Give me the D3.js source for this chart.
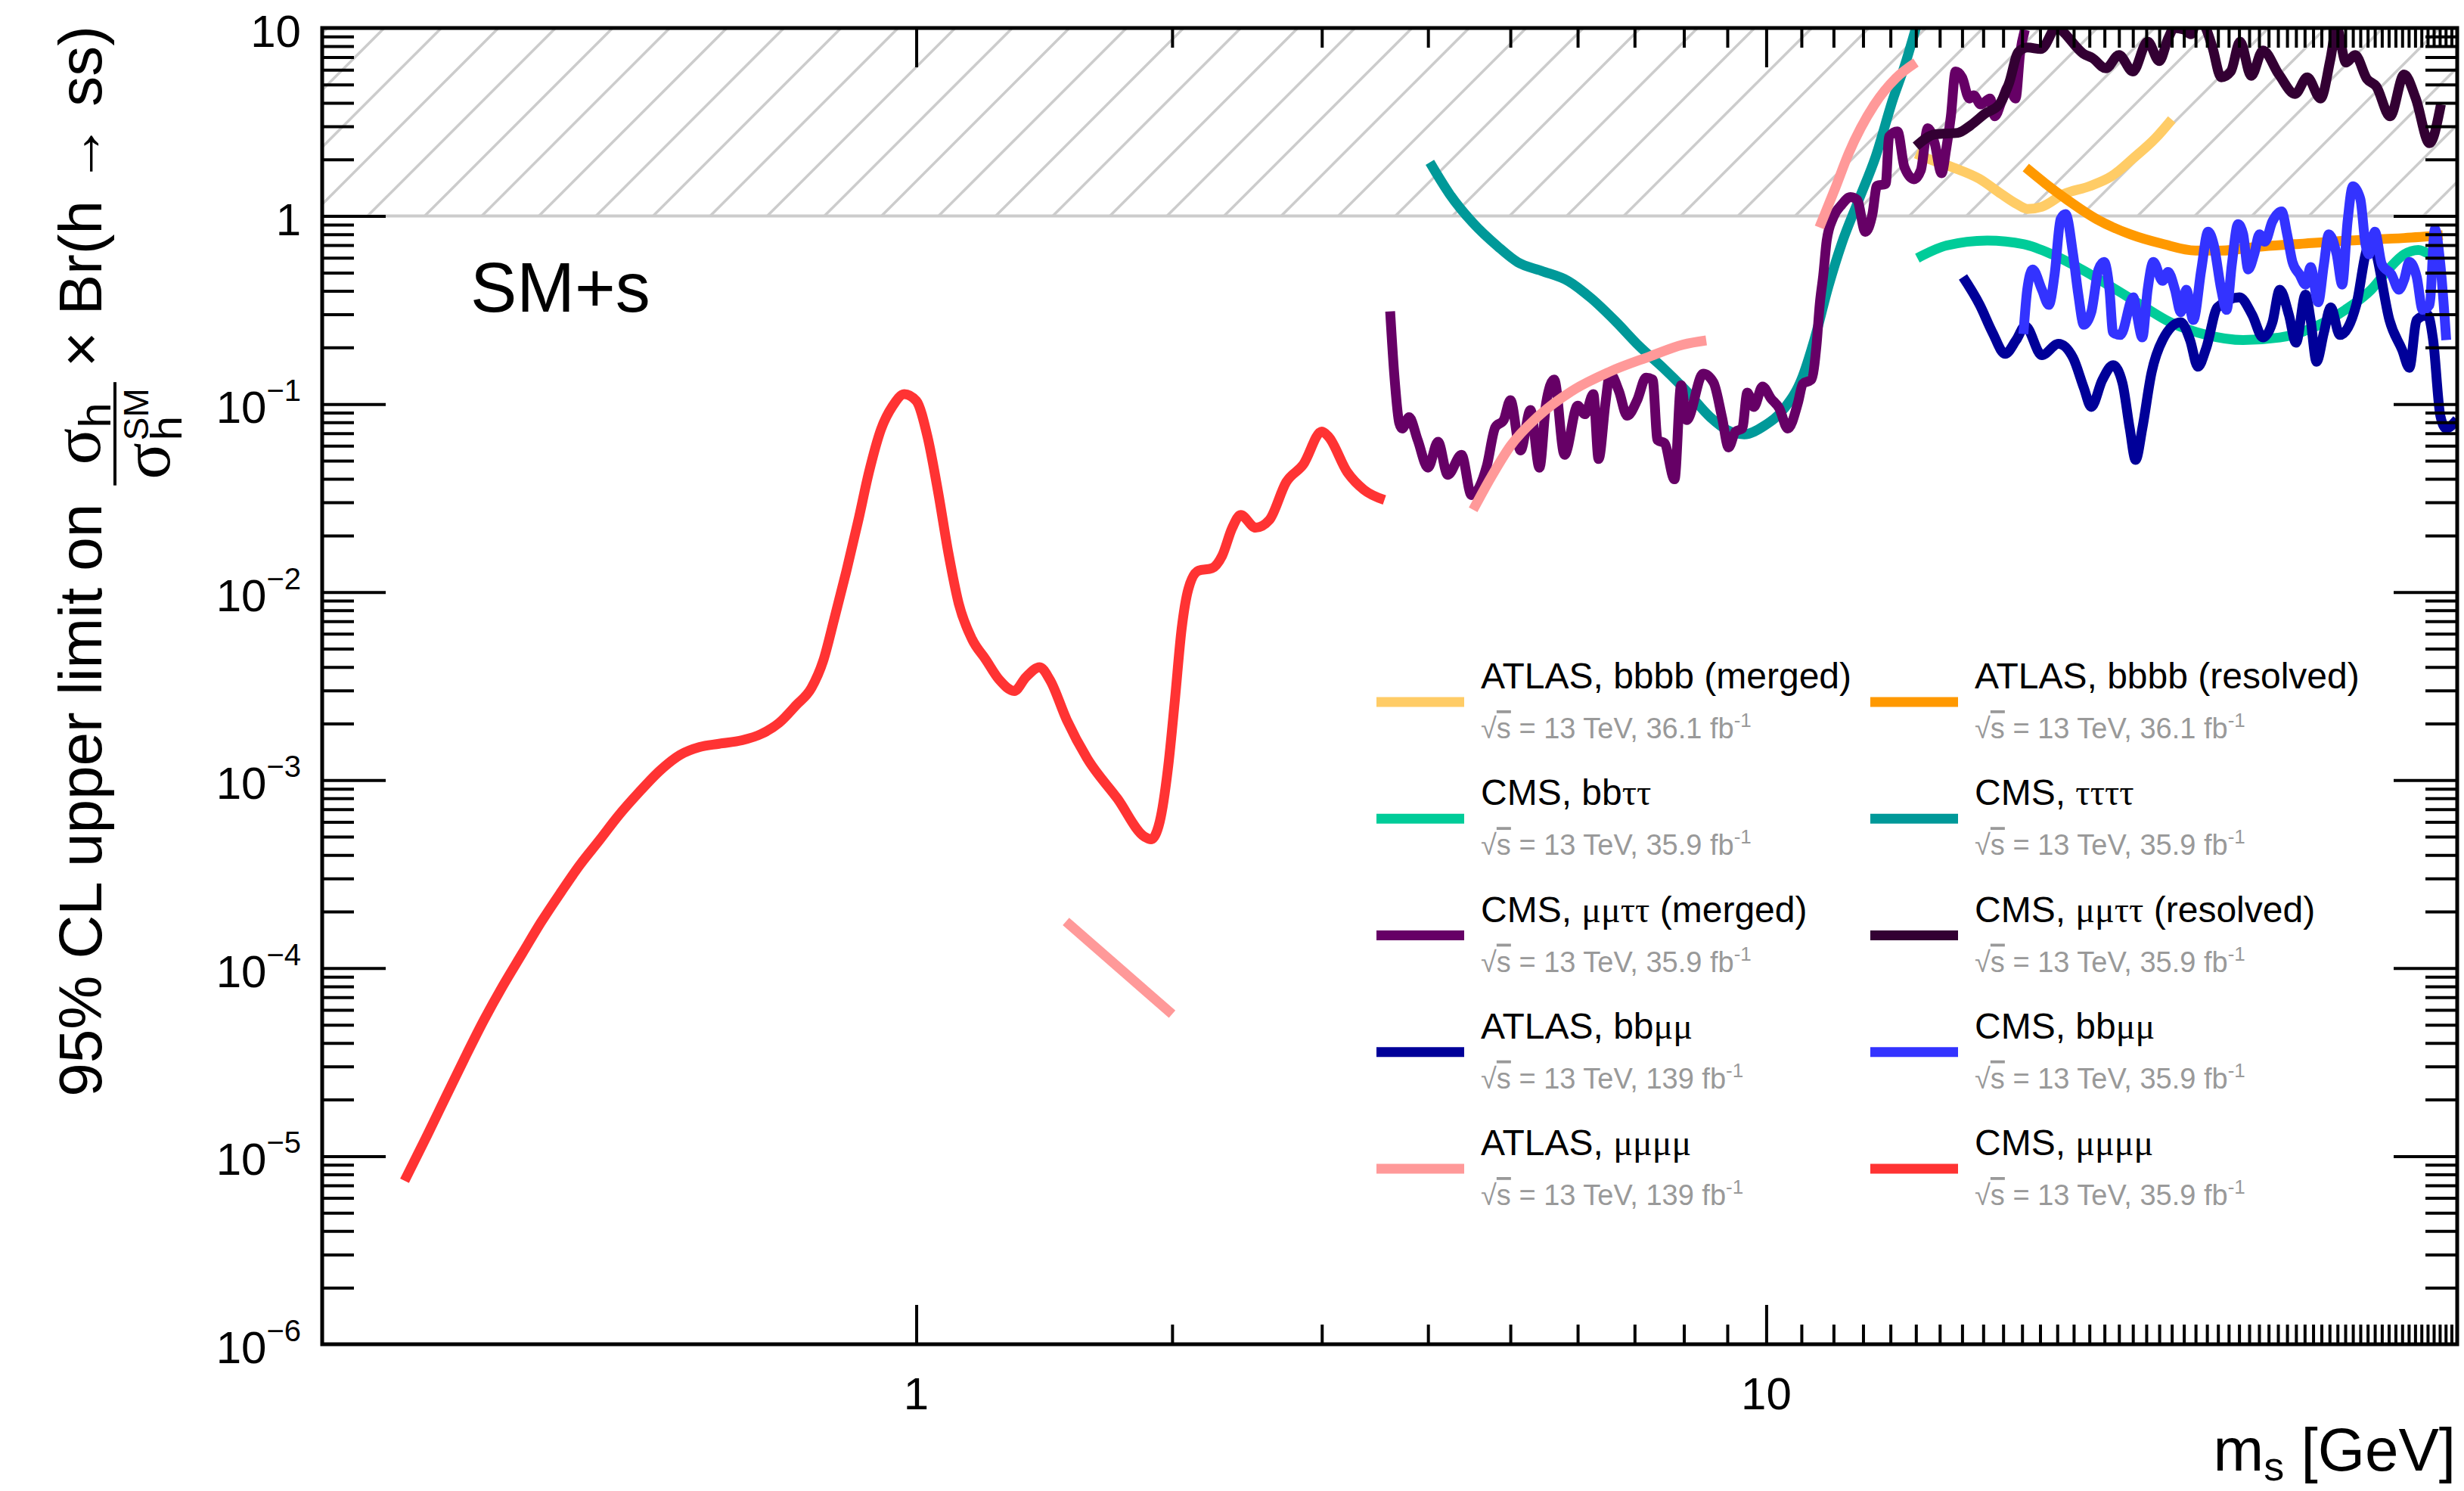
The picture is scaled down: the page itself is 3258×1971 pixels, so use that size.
<!DOCTYPE html>
<html>
<head>
<meta charset="utf-8">
<title>SM+s exotic Higgs limits</title>
<script src="https://cdn.jsdelivr.net/npm/d3@7"></script>
<style>
  body { margin: 0; background: #fff; }
  svg { display: block; font-family: "Liberation Sans", Arial, Helvetica, sans-serif; }
  text { white-space: pre; }
</style>
</head>
<body>
<svg id="chart" width="3258" height="1971"></svg>
<script>
// ---- data, [m_s in GeV, limit] ----
const atlasBbbbMerged = [[15.0,2.15],[15.5,2.02],[16.6,1.81],[17.8,1.58],[18.9,1.31],[19.7,1.16],[20.3,1.09],[21.1,1.12],[22.4,1.31],[24.0,1.44],[25.5,1.63],[27.0,2.02],[28.7,2.59],[30.0,3.26]];
const atlasBbbbResolved = [[20.2,1.81],[21.3,1.49],[22.6,1.22],[24.5,0.96],[26.8,0.80],[29.3,0.71],[32.0,0.655],[34.3,0.655],[37.9,0.686],[41.8,0.708],[48.5,0.741],[56.3,0.764],[62.5,0.79]];
const cmsBbTauTau = [[15.06,0.597],[16.3,0.697],[18.2,0.741],[20.1,0.708],[21.7,0.625],[23.5,0.52],[25.5,0.419],[27.6,0.337],[29.9,0.272],[33.0,0.233],[36.4,0.219],[40.2,0.226],[44.4,0.26],[48.0,0.317],[51.5,0.406],[54.1,0.528],[56.3,0.625],[58.5,0.66],[60.5,0.62]];
const cmsTauTauTauTau = [[4.02,1.93],[4.24,1.31],[4.52,0.917],[4.83,0.69],[5.1,0.568],[5.44,0.511],[5.85,0.451],[6.23,0.364],[6.65,0.275],[7.09,0.203],[7.56,0.156],[8.06,0.117],[8.59,0.0853],[9.0,0.0727],[9.42,0.069],[9.95,0.0767],[10.5,0.0948],[11.0,0.135],[11.4,0.222],[11.83,0.42],[12.27,0.715],[12.85,1.22],[13.45,2.07],[14.1,4.2],[14.55,6.3],[15.0,10.0]];
const cmsMuMuTauTauMerged = [[3.61,0.311],[3.65,0.145],[3.70,0.0794],[3.73,0.0741],[3.80,0.0851],[3.89,0.0643],[4.0,0.0459],[4.11,0.063],[4.22,0.042],[4.38,0.0537],[4.50,0.0328],[4.69,0.0467],[4.80,0.0753],[4.91,0.0822],[5.0,0.105],[5.14,0.0567],[5.28,0.093],[5.41,0.0459],[5.51,0.102],[5.63,0.135],[5.79,0.0537],[6.0,0.098],[6.12,0.0883],[6.26,0.113],[6.35,0.051],[6.47,0.102],[6.55,0.145],[6.71,0.117],[6.86,0.0867],[7.05,0.105],[7.22,0.138],[7.35,0.135],[7.45,0.0643],[7.59,0.062],[7.80,0.0398],[7.94,0.126],[8.06,0.0822],[8.43,0.145],[8.67,0.130],[8.87,0.0851],[9.03,0.0588],[9.20,0.0714],[9.37,0.0741],[9.50,0.115],[9.67,0.0966],[9.90,0.124],[10.13,0.107],[10.36,0.0948],[10.6,0.0741],[10.9,0.102],[11.04,0.128],[11.3,0.135],[11.46,0.207],[11.56,0.34],[11.67,0.484],[11.78,0.741],[11.99,0.983],[12.27,1.15],[12.56,1.26],[12.79,1.22],[13.08,0.824],[13.33,1.02],[13.5,1.45],[13.82,1.48],[13.95,2.65],[14.27,2.82],[14.54,1.82],[14.92,1.57],[15.2,1.75],[15.49,2.93],[15.78,2.44],[16.08,1.69],[16.28,2.26],[16.49,3.39],[16.7,5.87],[17.0,5.46],[17.33,4.22],[17.54,4.38],[17.88,3.92],[18.34,4.22],[18.57,3.39],[18.92,4.07],[19.28,4.89],[19.65,4.22],[19.89,7.31],[20.15,9.8]];
const cmsMuMuTauTauResolved = [[15.0,2.35],[15.8,2.72],[16.8,2.77],[17.4,3.04],[18.1,3.51],[18.8,3.92],[19.3,5.07],[19.8,7.45],[20.3,7.87],[21.05,7.73],[22.0,10.2],[22.4,9.45],[23.6,7.31],[24.2,6.92],[25.1,6.1],[26.0,7.18],[27.0,5.87],[28.1,8.46],[29.0,6.67],[29.7,8.78],[30.2,10.0],[31.0,9.8],[31.6,9.27],[32.2,11.5],[32.9,10.0],[33.5,7.87],[34.3,5.46],[35.2,5.87],[36.1,8.46],[37.2,5.56],[38.4,7.59],[40.1,5.66],[41.9,4.46],[43.3,5.46],[44.9,4.22],[46.1,6.8],[46.9,10.0],[48.1,6.55],[49.3,7.18],[50.9,5.36],[52.2,4.89],[54.2,3.39],[56.3,5.66],[58.1,4.22],[60.3,2.44],[62.2,3.92]];
const atlasBbMuMu = [[17.04,0.474],[17.83,0.337],[18.46,0.24],[19.1,0.185],[19.68,0.219],[20.17,0.26],[21.1,0.182],[22.07,0.209],[22.96,0.176],[23.64,0.122],[24.12,0.0966],[24.85,0.134],[25.59,0.161],[26.24,0.13],[26.77,0.0743],[27.2,0.0505],[27.7,0.0743],[28.4,0.147],[29.26,0.219],[30.74,0.272],[31.52,0.219],[32.2,0.158],[32.95,0.2],[33.95,0.327],[36.04,0.37],[37.3,0.298],[38.4,0.226],[39.4,0.272],[40.2,0.406],[41.2,0.298],[42.0,0.212],[43.1,0.382],[43.7,0.28],[44.4,0.168],[45.3,0.24],[46.15,0.327],[47.3,0.233],[49.45,0.337],[50.7,0.625],[51.5,0.776],[52.24,0.625],[54.1,0.28],[56.0,0.194],[57.1,0.156],[58.25,0.28],[60.0,0.298],[60.9,0.219],[62.1,0.0867],[63.06,0.0743],[64.97,0.0828]];
const cmsBbMuMu = [[20.07,0.236],[20.28,0.406],[20.58,0.52],[21.1,0.406],[21.5,0.337],[21.84,0.489],[22.2,0.964],[22.5,1.025],[22.96,0.625],[23.29,0.382],[23.64,0.264],[24.12,0.308],[24.6,0.52],[24.97,0.57],[25.34,0.406],[25.59,0.24],[26.1,0.233],[27.04,0.37],[27.3,0.298],[27.7,0.226],[28.1,0.406],[28.54,0.57],[29.26,0.452],[29.7,0.504],[30.26,0.406],[30.74,0.308],[31.2,0.406],[31.8,0.28],[32.5,0.52],[33.1,0.826],[33.6,0.708],[34.3,0.406],[34.8,0.317],[35.3,0.553],[35.9,0.906],[36.4,0.80],[36.9,0.52],[37.5,0.625],[38.05,0.80],[38.6,0.73],[39.4,0.935],[40.4,1.057],[41.0,0.80],[41.6,0.57],[42.4,0.489],[43.1,0.432],[43.7,0.536],[44.6,0.348],[45.3,0.553],[45.9,0.80],[46.9,0.625],[47.6,0.432],[48.3,0.935],[49.0,1.44],[50.0,1.23],[50.7,0.708],[51.2,0.625],[52.0,0.826],[53.0,0.553],[54.4,0.489],[55.5,0.406],[56.3,0.459],[57.1,0.57],[58.25,0.474],[59.2,0.317],[60.3,0.337],[61.2,0.852],[62.1,0.553],[63.1,0.219]];
const atlasMuMuMuMuLow = [[1.5,1.77e-4],[2.0,5.7e-5]];
const atlasMuMuMuMuMid = [[4.52,0.0274],[4.74,0.0405],[5.0,0.0598],[5.38,0.0853],[5.9,0.117],[6.53,0.148],[7.29,0.179],[7.98,0.207],[8.5,0.218]];
const atlasMuMuMuMuHigh = [[11.55,0.87],[12.05,1.4],[12.5,2.15],[13.4,3.9],[14.2,5.4],[15.0,6.55]];
const cmsMuMuMuMu = [[0.25,7.4e-6],[0.266,1.3e-5],[0.28,2.1e-5],[0.294,3.3e-5],[0.31,5.3e-5],[0.326,8.0e-5],[0.344,1.2e-4],[0.362,1.76e-4],[0.382,2.54e-4],[0.402,3.54e-4],[0.424,4.8e-4],[0.446,6.45e-4],[0.47,8.45e-4],[0.5,1.13e-3],[0.527,1.36e-3],[0.556,1.5e-3],[0.586,1.56e-3],[0.624,1.63e-3],[0.657,1.76e-3],[0.69,2.02e-3],[0.722,2.5e-3],[0.753,3.1e-3],[0.777,4.3e-3],[0.801,7.24e-3],[0.827,0.0128],[0.854,0.0237],[0.88,0.0437],[0.909,0.0735],[0.938,0.0977],[0.968,0.113],[1.0,0.104],[1.031,0.0669],[1.061,0.034],[1.091,0.0161],[1.122,8.67e-3],[1.163,5.62e-3],[1.207,4.38e-3],[1.252,3.42e-3],[1.304,2.98e-3],[1.346,3.53e-3],[1.397,3.99e-3],[1.436,3.42e-3],[1.504,2.08e-3],[1.588,1.31e-3],[1.725,7.96e-4],[1.856,5.0e-4],[1.889,4.85e-4],[1.934,6.02e-4],[1.979,1.19e-3],[2.015,2.67e-3],[2.052,6.37e-3],[2.09,0.0104],[2.148,0.013],[2.228,0.0134],[2.29,0.0156],[2.354,0.022],[2.408,0.0257],[2.508,0.022],[2.603,0.0242],[2.724,0.0384],[2.853,0.0477],[3.0,0.0714],[3.055,0.0671],[3.214,0.0435],[3.363,0.035],[3.555,0.0309]];

// legend entries (two columns, row by row)
const seriesLabels = ["ATLAS, bbbb (merged)", "ATLAS, bbbb (resolved)", "CMS, bbττ", "CMS, ττττ",
  "CMS, μμττ (merged)", "CMS, μμττ (resolved)", "ATLAS, bbμμ", "CMS, bbμμ", "ATLAS, μμμμ", "CMS, μμμμ"];
const seriesLumi = ["36.1", "36.1", "35.9", "35.9", "35.9", "35.9", "139", "35.9", "139", "35.9"];
const seriesColors = ["#ffcc66", "#ff9900", "#00cc99", "#009999", "#660066", "#330033", "#000099", "#3333ff", "#ff9999", "#ff3333"];
const seriesData = [[atlasBbbbMerged], [atlasBbbbResolved], [cmsBbTauTau], [cmsTauTauTauTau],
  [cmsMuMuTauTauMerged], [cmsMuMuTauTauResolved], [atlasBbMuMu], [cmsBbMuMu],
  [atlasMuMuMuMuLow, atlasMuMuMuMuMid, atlasMuMuMuMuHigh], [cmsMuMuMuMu]];
const drawOrder = [0, 1, 2, 3, 4, 5, 6, 7, 8, 9];

// axis labels
const xLabelValues = [1, 10];
const yLabelExponents = [-6, -5, -4, -3, -2, -1, 0, 1];
const modelLabel = "SM+s";

// ---- chart ----
const plotL = 426, plotR = 3249, plotT = 37, plotB = 1777;
const serif = "'Liberation Serif', 'DejaVu Serif', serif";

const svg = d3.select("#chart");

const x = d3.scaleLog().domain([0.2, 65]).range([plotL, plotR]);
const y = d3.scaleLog().domain([1e-6, 10]).range([plotB, plotT]);

svg.append("defs").append("clipPath").attr("id", "plotClip")
  .append("rect").attr("x", plotL).attr("y", plotT).attr("width", plotR - plotL).attr("height", plotB - plotT);

// excluded region above 1, hatched
const hatch = svg.append("g").attr("clip-path", "url(#plotClip)");
const y1 = y(1), y10 = y(10);
d3.range(-5, 40).forEach(k => {
  const x0 = 486 + k * 75.5;
  hatch.append("line")
    .attr("x1", x0).attr("y1", y1)
    .attr("x2", x0 + (y1 - y10)).attr("y2", y10)
    .attr("stroke", "#cccccc").attr("stroke-width", 3.5);
});
hatch.append("line").attr("x1", plotL).attr("x2", plotR).attr("y1", y1).attr("y2", y1)
  .attr("stroke", "#cccccc").attr("stroke-width", 4);

// curves
const line = d3.line().x(d => x(d[0])).y(d => y(d[1])).curve(d3.curveMonotoneX);
const curves = svg.append("g").attr("clip-path", "url(#plotClip)");
drawOrder.forEach(i => {
  seriesData[i].forEach(seg => {
    curves.append("path").datum(seg)
      .attr("d", line)
      .attr("fill", "none")
      .attr("stroke", seriesColors[i])
      .attr("stroke-width", 13)
      .attr("stroke-linejoin", "round");
  });
});

// ticks
const isDecade = v => Math.abs(Math.log10(v) - Math.round(Math.log10(v))) < 1e-9;
const xTicks = x.ticks(60).filter(v => v > 0.2001 && v < 64.9);
const yTicks = y.ticks(80).filter(v => v > 1.0001e-6 && v < 9.999);
const xMajor = xTicks.filter(isDecade), xMinor = xTicks.filter(v => !isDecade(v));
const yMajor = yTicks.filter(isDecade), yMinor = yTicks.filter(v => !isDecade(v));

function tickAxis(axisFn, scale, values, size, transform) {
  svg.append("g").attr("transform", transform)
    .call(axisFn(scale).tickValues(values).tickSize(-size).tickFormat(""))
    .call(g => g.select(".domain").remove())
    .call(g => g.selectAll("line").attr("stroke", "#000").attr("stroke-width", 4));
}
tickAxis(d3.axisBottom, x, xMajor, 52, `translate(0,${plotB})`);
tickAxis(d3.axisBottom, x, xMinor, 26, `translate(0,${plotB})`);
tickAxis(d3.axisTop, x, xMajor, 52, `translate(0,${plotT})`);
tickAxis(d3.axisTop, x, xMinor, 26, `translate(0,${plotT})`);
tickAxis(d3.axisLeft, y, yMajor, 84, `translate(${plotL},0)`);
tickAxis(d3.axisLeft, y, yMinor, 42, `translate(${plotL},0)`);
tickAxis(d3.axisRight, y, yMajor, 84, `translate(${plotR},0)`);
tickAxis(d3.axisRight, y, yMinor, 42, `translate(${plotR},0)`);

svg.append("rect").attr("x", plotL).attr("y", plotT).attr("width", plotR - plotL).attr("height", plotB - plotT)
  .attr("fill", "none").attr("stroke", "#000").attr("stroke-width", 5);

// tick labels
yLabelExponents.forEach(e => {
  const t = svg.append("text").attr("x", 398).attr("y", y(Math.pow(10, e)) + 25)
    .attr("text-anchor", "end").attr("font-size", 60);
  if (e === 0) t.text("1");
  else if (e === 1) t.text("10");
  else {
    t.append("tspan").text("10");
    t.append("tspan").attr("font-size", 40).attr("dy", -29).text("−" + (-e));
  }
});
xLabelValues.forEach(v => {
  svg.append("text").attr("x", x(v)).attr("y", 1863).attr("text-anchor", "middle")
    .attr("font-size", 60).text(String(v));
});

// x title
const xt = svg.append("text").attr("x", 3247).attr("y", 1944).attr("text-anchor", "end").attr("font-size", 80);
xt.append("tspan").text("m");
xt.append("tspan").attr("font-size", 54).attr("dy", 13).text("s");
xt.append("tspan").attr("dy", -13).text(" [GeV]");

// y title (rotated, built piece by piece; local +y points right on screen)
const yTitle = svg.append("g");
let u = 0;
const t1 = yTitle.append("text").attr("x", 0).attr("y", 0).attr("font-size", 80).text("95% CL upper limit on");
u = t1.node().getComputedTextLength() + 24;
const num = yTitle.append("text").attr("y", -2).attr("font-size", 90);
num.append("tspan").attr("font-family", serif).text("σ");
num.append("tspan").attr("font-size", 60).attr("dy", 14).text("h");
const den = yTitle.append("text").attr("y", 90).attr("font-size", 90).attr("font-family", serif).text("σ");
const sigW = den.node().getComputedTextLength();
const supSM = yTitle.append("text").attr("y", 62).attr("font-size", 46).text("SM");
const subH = yTitle.append("text").attr("y", 106).attr("font-size", 58).text("h");
const denW = sigW + 3 + Math.max(supSM.node().getComputedTextLength(), subH.node().getComputedTextLength());
const numW = num.node().getComputedTextLength();
const fw = Math.max(denW, numW) + 16;
num.attr("x", u + (fw - numW) / 2);
den.attr("x", u + (fw - denW) / 2);
supSM.attr("x", u + (fw - denW) / 2 + sigW + 3);
subH.attr("x", u + (fw - denW) / 2 + sigW + 3);
yTitle.append("line").attr("x1", u).attr("x2", u + fw).attr("y1", 18).attr("y2", 18)
  .attr("stroke", "#000").attr("stroke-width", 4);
u += fw + 20;
const t3 = yTitle.append("text").attr("x", u).attr("y", 0).attr("font-size", 80).text("× Br(h → ss)");
u += t3.node().getComputedTextLength();
yTitle.attr("transform", `translate(134,${34 + u}) rotate(-90)`);

// model label
svg.append("text").attr("x", 622).attr("y", 412).attr("font-size", 92).text(modelLabel);

// legend
function richText(sel, str) {
  str.match(/[μτσ]+|[^μτσ]+/g).forEach(r => {
    const t = sel.append("tspan").text(r);
    if (/[μτσ]/.test(r)) t.attr("font-family", serif);
  });
}
const legend = svg.append("g");
seriesLabels.forEach((lab, i) => {
  const col = i % 2, row = Math.floor(i / 2);
  const sx = col === 0 ? 1820 : 2473;
  const cy = 928 + row * 154.25;
  legend.append("line").attr("x1", sx).attr("x2", sx + 116).attr("y1", cy).attr("y2", cy)
    .attr("stroke", seriesColors[i]).attr("stroke-width", 13);
  const t = legend.append("text").attr("x", sx + 138).attr("y", cy - 18).attr("font-size", 48);
  richText(t, lab);
  const s = legend.append("text").attr("x", sx + 138).attr("y", cy + 48).attr("font-size", 38).attr("fill", "#999999");
  s.append("tspan").text("√");
  s.append("tspan").style("text-decoration", "overline").text("s");
  s.append("tspan").text(" = 13 TeV, " + seriesLumi[i] + " fb");
  s.append("tspan").attr("font-size", 26).attr("dy", -15).text("-1");
});
</script>
</body>
</html>
